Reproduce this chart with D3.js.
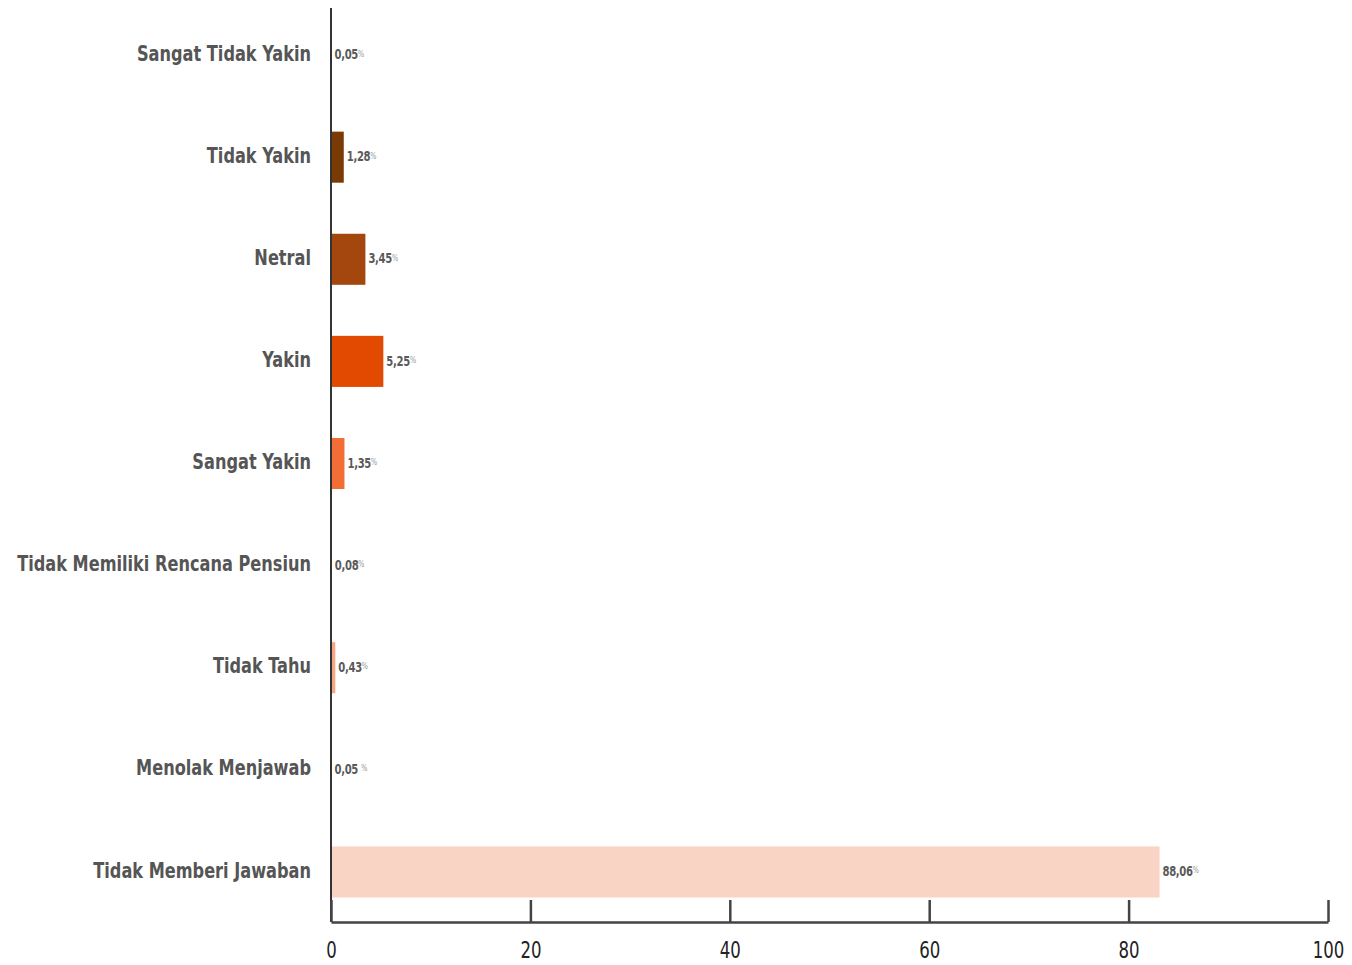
<!DOCTYPE html>
<html><head><meta charset="utf-8">
<script src="https://cdn.jsdelivr.net/npm/d3@7"></script>
<style>
body{margin:0;background:#fff;}
svg{display:block;}
</style></head>
<body>
<svg id="chart" width="1352" height="965"></svg>
<script>
const categories = ["Sangat Tidak Yakin","Tidak Yakin","Netral","Yakin","Sangat Yakin","Tidak Memiliki Rencana Pensiun","Tidak Tahu","Menolak Menjawab","Tidak Memberi Jawaban"];
// bar lengths as drawn in the reference
const barValues = [0.05, 1.28, 3.45, 5.25, 1.35, 0.08, 0.43, 0.05, 83.1];
const valueLabels = ["0,05","1,28","3,45","5,25","1,35","0,08","0,43","0,05 ","88,06"];
const barColors = ["#6b3006","#7a3a06","#a4470f","#e24a02","#f26e36","#f5a080","#f7a685","#f8c7b3","#f9d3c3"];
const xTicks = [0,20,40,60,80,100];

const svg = d3.select("#chart");
const x = d3.scaleLinear().domain([0,100]).range([331,1328]);
const y = d3.scaleBand().domain(categories).range([4,923]).paddingInner(0.5).paddingOuter(0.25);
const font = "'DejaVu Sans Condensed','DejaVu Sans',sans-serif";

// bars
svg.append("g").selectAll("rect").data(categories).join("rect")
  .attr("x", x(0))
  .attr("y", d => y(d))
  .attr("width", (d,i) => x(barValues[i]) - x(0))
  .attr("height", y.bandwidth())
  .attr("fill", (d,i) => barColors[i]);

// value labels
const vl = svg.append("g").selectAll("text").data(categories).join("text")
  .attr("transform", (d,i) => `translate(${x(barValues[i]) + 3},${y(d) + y.bandwidth()/2}) scale(0.8,1)`)
  .attr("dy", "0.3em")
  .attr("font-family", font)
  .attr("font-weight", "bold")
  .attr("font-size", 14)
  .attr("fill", "#5a5a5a")
  .attr("letter-spacing", "-0.4");
vl.append("tspan").text((d,i) => valueLabels[i]);
vl.append("tspan").text("%").attr("font-size", 9).attr("font-weight","normal").attr("fill","#999").attr("dy","-0.3em");

// category labels
const cl = svg.append("g").selectAll("text").data(categories).join("text")
  .attr("dy", "0.3em")
  .attr("text-anchor", "end")
  .attr("font-family", font)
  .attr("font-weight", "bold")
  .attr("font-size", 22)
  .attr("fill", "#555")
  .text(d => d);
let maxW = 0;
cl.each(function(){ maxW = Math.max(maxW, this.getComputedTextLength()); });
const sx = 294 / maxW;
cl.attr("transform", d => `translate(311,${y(d) + y.bandwidth()/2 - 1}) scale(${sx},1)`);

// y axis line
svg.append("line").attr("x1", x(0)).attr("x2", x(0)).attr("y1", 8).attr("y2", 922)
  .attr("stroke", "#333").attr("stroke-width", 2);

// x axis
const xAxis = d3.axisBottom(x).tickValues(xTicks).tickSize(-22).tickSizeOuter(0).tickPadding(10).tickFormat(d3.format("d"));
const gx = svg.append("g").attr("transform", "translate(0,922)").call(xAxis);
gx.select(".domain").attr("stroke", "#444").attr("stroke-width", 2.5);
gx.selectAll(".tick line").attr("stroke", "#444").attr("stroke-width", 2.5);
gx.selectAll(".tick text").attr("font-family", font).attr("font-size", 23).attr("fill", "#222")
  .attr("y", 0).attr("dy", 0)
  .attr("transform", "translate(0,36) scale(0.8,1)");
</script>
</body></html>
